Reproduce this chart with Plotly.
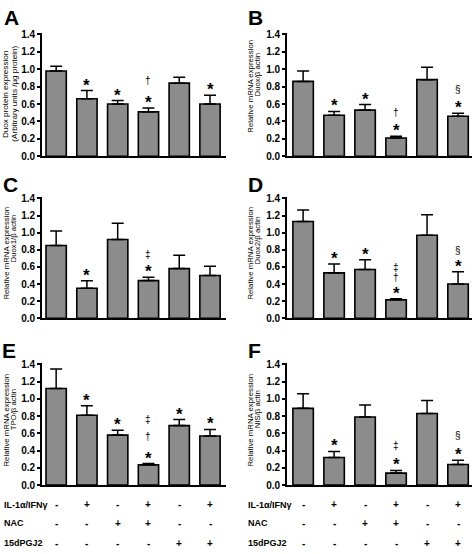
import plotly.graph_objects as go

# ---------------- data ----------------
treatments = ["C", "IL", "NAC", "IL+NAC", "15d", "IL+15d"]

a_vals = [0.98, 0.66, 0.60, 0.51, 0.84, 0.60]
a_errs = [0.055, 0.095, 0.04, 0.045, 0.067, 0.10]
a_marks = ["", "*", "*", "*†", "", "*"]

b_vals = [0.86, 0.47, 0.53, 0.21, 0.88, 0.46]
b_errs = [0.12, 0.045, 0.064, 0.02, 0.143, 0.035]
b_marks = ["", "*", "*", "*†", "", "*§"]

c_vals = [0.85, 0.35, 0.92, 0.44, 0.58, 0.50]
c_errs = [0.17, 0.088, 0.19, 0.04, 0.155, 0.108]
c_marks = ["", "*", "", "*‡", "", ""]

d_vals = [1.13, 0.53, 0.57, 0.215, 0.97, 0.40]
d_errs = [0.135, 0.104, 0.115, 0.012, 0.24, 0.142]
d_marks = ["", "*", "*", "*†‡", "", "*§"]

e_vals = [1.12, 0.81, 0.58, 0.235, 0.69, 0.57]
e_errs = [0.225, 0.11, 0.057, 0.015, 0.07, 0.076]
e_marks = ["", "*", "*", "*†‡", "*", "*"]

f_vals = [0.89, 0.32, 0.79, 0.14, 0.83, 0.24]
f_errs = [0.17, 0.07, 0.14, 0.03, 0.15, 0.05]
f_marks = ["", "*", "", "*‡", "", "*§"]

letters = ["A", "B", "C", "D", "E", "F"]
titles_l1 = ["Duox protein expression", "Relative mRNA expression", "Relative mRNA expression",
             "Relative mRNA expression", "Relative mRNA expression", "Relative mRNA expression"]
titles_l2 = ["(Arbitrary units /µg protein)", "Duox/β actin", "Duox1/β actin",
             "Duox2/β actin", "TPO/β actin", "NIS/β actin"]

row_labels = ["IL-1α/IFNγ", "NAC", "15dPGJ2"]
il_signs = ["-", "+", "-", "+", "-", "+"]
nac_signs = ["-", "-", "+", "+", "-", "-"]
pgj_signs = ["-", "-", "-", "-", "+", "+"]
y_ticks = [0.0, 0.2, 0.4, 0.6, 0.8, 1.0, 1.2, 1.4]

# ---------------- layout helpers ----------------
W, H = 475, 554
def px(x):
    return x / W
def py(y):
    return 1 - y / H

panels = [
    (a_vals, a_errs, a_marks),
    (b_vals, b_errs, b_marks),
    (c_vals, c_errs, c_marks),
    (d_vals, d_errs, d_marks),
    (e_vals, e_errs, e_marks),
    (f_vals, f_errs, f_marks),
]

xdom = [(42, 226), (287, 472)]
xr = [[-0.46, 5.52], [-0.52, 5.45]]
# (top px of 1.42, bottom px of 0)
ydom = [(29.2, 155), (196.3, 320), (365.2, 490)]
title_x = [10, 254]
t1_y = [92, 84, 254, 254, 424, 424]
t2_y = [91, 72, 239, 241, 413, 413]
title_size = [8.1, 7.8, 7.8, 7.8, 7.8, 7.8]
title_half_gap = [4.3, 3.8, 3.8, 3.8, 3.8, 3.8]
letter_pos = [(2, 0), (246, 0), (1, 170), (246, 170), (0, 339), (246, 339)]
first_gap = [17, 14, 13, 11, 17, 15]   # star -> first symbol above (px)
next_gap = [15, 15, 15, 10, 17, 15]    # symbol -> symbol above (px)
STAR_SHIFT = 6

FONT = "Liberation Sans, Arial, sans-serif"
GRAY = "#8c8c8c"

fig = go.Figure()
annotations = []
layout = dict(
    width=W, height=H, margin=dict(l=0, r=0, t=0, b=0),
    paper_bgcolor="white", plot_bgcolor="white", showlegend=False,
    font=dict(family=FONT, color="black"),
)

for k, (vals, errs, marks) in enumerate(panels):
    col = k % 2
    row = k // 2
    ax = "" if k == 0 else str(k + 1)
    fig.add_trace(go.Bar(
        x=list(range(len(vals))), y=vals, width=0.66,
        marker=dict(color=GRAY, line=dict(color="black", width=1.6)),
        error_y=dict(type="data", array=errs, arrayminus=[0] * len(errs), symmetric=False,
                     color="black", thickness=1.5, width=6),
        xaxis="x" + ax, yaxis="y" + ax, hoverinfo="skip",
    ))
    layout["xaxis" + ax] = dict(
        domain=[px(xdom[col][0]), px(xdom[col][1])], range=xr[col], anchor="y" + ax,
        showline=True, linecolor="black", linewidth=1.6, showticklabels=False,
        ticks="", showgrid=False, zeroline=False, fixedrange=True,
    )
    layout["yaxis" + ax] = dict(
        domain=[py(ydom[row][1]), py(ydom[row][0])], range=[0, 1.42], anchor="x" + ax,
        showline=True, linecolor="black", linewidth=1.6, tickvals=y_ticks,
        tickformat=".1f", ticks="outside", ticklen=3, tickwidth=1.5, tickcolor="black",
        tickfont=dict(size=10, family=FONT, weight="bold", color="black"), showgrid=False,
        zeroline=False, fixedrange=True,
    )
    # significance symbols
    for i, m in enumerate(marks):
        for j, ch in enumerate(m):
            is_star = ch == "*"
            if is_star:
                shift = STAR_SHIFT
            else:
                shift = STAR_SHIFT + 4 + first_gap[k] + (j - 1) * next_gap[k]
            annotations.append(dict(
                x=i, y=vals[i] + errs[i], xref="x" + ax, yref="y" + ax,
                text=ch, showarrow=False, xanchor="center", yanchor="middle",
                yshift=shift, height=11 if not is_star else 12, borderpad=0,
                font=dict(size=17 if is_star else 10, family=FONT, color="black",
                          weight="bold" if is_star else "normal"),
            ))
    # panel letter
    lx, ly = letter_pos[k]
    annotations.append(dict(
        x=px(lx), y=py(ly), xref="paper", yref="paper", text=letters[k],
        showarrow=False, xanchor="left", yanchor="top",
        font=dict(size=21, family=FONT, weight="bold", color="black"),
    ))
    # y titles
    tx = title_x[col]
    hg = title_half_gap[k]
    annotations.append(dict(
        x=px(tx - hg), y=py(t1_y[k]), xref="paper", yref="paper", text=titles_l1[k],
        textangle=-90, showarrow=False, xanchor="center", yanchor="middle",
        font=dict(size=title_size[k], family=FONT, color="black"),
    ))
    annotations.append(dict(
        x=px(tx + hg), y=py(t2_y[k]), xref="paper", yref="paper", text=titles_l2[k],
        textangle=-90, showarrow=False, xanchor="center", yanchor="middle",
        font=dict(size=title_size[k], family=FONT, color="black"),
    ))

# treatment table
rows_y = [510, 529, 549]
for col, (ax, lx) in enumerate([("x5", 2), ("x6", 246)]):
    for r, (lab, signs) in enumerate(zip(row_labels, [il_signs, nac_signs, pgj_signs])):
        annotations.append(dict(
            x=px(lx), y=py(rows_y[r]), xref="paper", yref="paper", text=lab,
            showarrow=False, xanchor="left", yanchor="middle",
            font=dict(size=9, family=FONT, weight="bold", color="black"),
        ))
        for i, s in enumerate(signs):
            annotations.append(dict(
                x=i, y=py(rows_y[r]), xref=ax, yref="paper", text=s,
                showarrow=False, xanchor="center", yanchor="middle",
                font=dict(size=10, family=FONT, weight="bold", color="black"),
            ))

layout["annotations"] = annotations
fig.update_layout(**layout)
fig.write_html(
    "out.html",
    config={"displayModeBar": False},
    post_script="document.body.style.margin='0px';document.body.style.overflow='hidden';",
)
